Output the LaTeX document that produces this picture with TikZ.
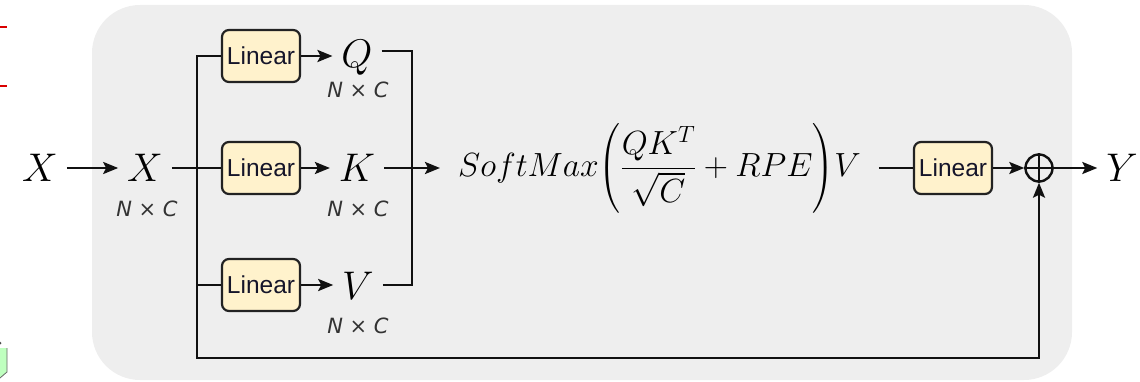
\documentclass[tikz,border=0pt]{standalone}
\usepackage{fix-cm}
\usepackage{amsmath}
\usepackage{fontspec}
\usetikzlibrary{arrows.meta,calc}
\newfontfamily\linfont{Liberation Sans}
\newfontfamily\dimfont{DejaVu Sans}
\definecolor{bggray}{HTML}{EEEEEE}
\definecolor{boxfill}{HTML}{FFF2CC}
\definecolor{boxline}{HTML}{222222}
\definecolor{lintext}{HTML}{15152A}
\definecolor{dimgray}{HTML}{333333}
\definecolor{linecol}{HTML}{111111}
\tikzset{
  conn/.style={draw=linecol, line width=2.6pt},
  arr/.style={conn, -{Stealth[length=15pt,width=12pt,inset=3pt]}},
  linbox/.style={draw=boxline, fill=boxfill, rounded corners=7pt, line width=2.2pt,
    minimum width=78pt, minimum height=52pt, inner sep=0pt,
    font=\linfont\fontsize{24.5}{28}\selectfont, text=lintext},
  var/.style={inner sep=0pt, text height=28pt, text depth=0pt, outer xsep=9pt,
    font=\fontsize{40}{48}\selectfont},
  dimlab/.style={anchor=base, inner sep=0pt, text=dimgray,
    font=\dimfont\itshape\fontsize{21}{24}\selectfont},
  plusnode/.style={circle, draw=linecol, line width=2.4pt, minimum size=27pt, inner sep=0pt},
}
\begin{document}
\begin{tikzpicture}[x=1pt,y=-1pt]
\useasboundingbox (0,0) rectangle (1140,382);
% background panel
\fill[bggray, rounded corners=48pt] (92,5) rectangle (1072,380);
% edge artifacts
\draw[red!85!black, line width=1.5pt] (0,27) -- (7,27);
\draw[red!85!black, line width=1.5pt] (0,86) -- (7,86);
\fill[black!70] (0,343) circle (1.5pt);
\fill[green!25!white] (0,348) -- (7,348) -- (7,372) -- (0,378) -- cycle;
\draw[black!60, line width=0.8pt] (7,348) -- (7,372) -- (0,378);

% nodes
\node[var] (Xo) at (40,168) {$X$};
\node[var] (Xi) at (145,168) {$X$};
\node[dimlab] (dX) at (147,217) {N × C};

\node[linbox] (LQ) at (261,56) {Linear};
\node[linbox] (LK) at (261,168) {Linear};
\node[linbox] (LV) at (261,285) {Linear};

\node[var] (Q) at (357,54) {$Q$};
\node[var] (K) at (357,168) {$K$};
\node[var] (V) at (358,285) {$V$};
\node[dimlab] (dQ) at (358,98) {N × C};
\node[dimlab] (dK) at (358,217) {N × C};
\node[dimlab] (dV) at (358,333) {N × C};

\node[anchor=base west, inner xsep=18pt, inner ysep=0pt, font=\fontsize{33.5}{40}\selectfont] (F) at (440,177)
  {$SoftMax{\left(\dfrac{QK^T}{\sqrt{C}}+RPE\right)}V$};

\node[linbox] (LO) at (953,168) {Linear};
\node[plusnode] (P) at (1039,168) {};
\node[var] (Y) at (1122,168) {$Y$};

\coordinate (br) at (197,358);
\coordinate (m) at (412,168);

% connectors
\draw[arr] (Xo.east) -- (Xi.west);
\draw[conn] (Xi.east) -- (LK.west);
\draw[arr] (LQ.west) -| (br) -| (P.south);
\draw[conn] (LV.west) -- (LV.west -| br);

\draw[arr] (LQ.east) -- (Q.west |- LQ.east);
\draw[arr] (LK.east) -- (K.west);
\draw[arr] (LV.east) -- (V.west |- LV.east);

\draw[conn] (Q.east |- 0,51) -| (m);
\draw[conn] (V.east) -| (m);
\draw[arr] (K.east) -- (F.west |- K.east);

\draw[conn] (F.east |- LO.west) -- (LO.west);
\draw[arr] (LO.east) -- (P.west);
\draw[conn] (P.north) -- (P.south) (P.west) -- (P.east);
\draw[arr] (P.east) -- (Y.west);
\end{tikzpicture}
\end{document}
